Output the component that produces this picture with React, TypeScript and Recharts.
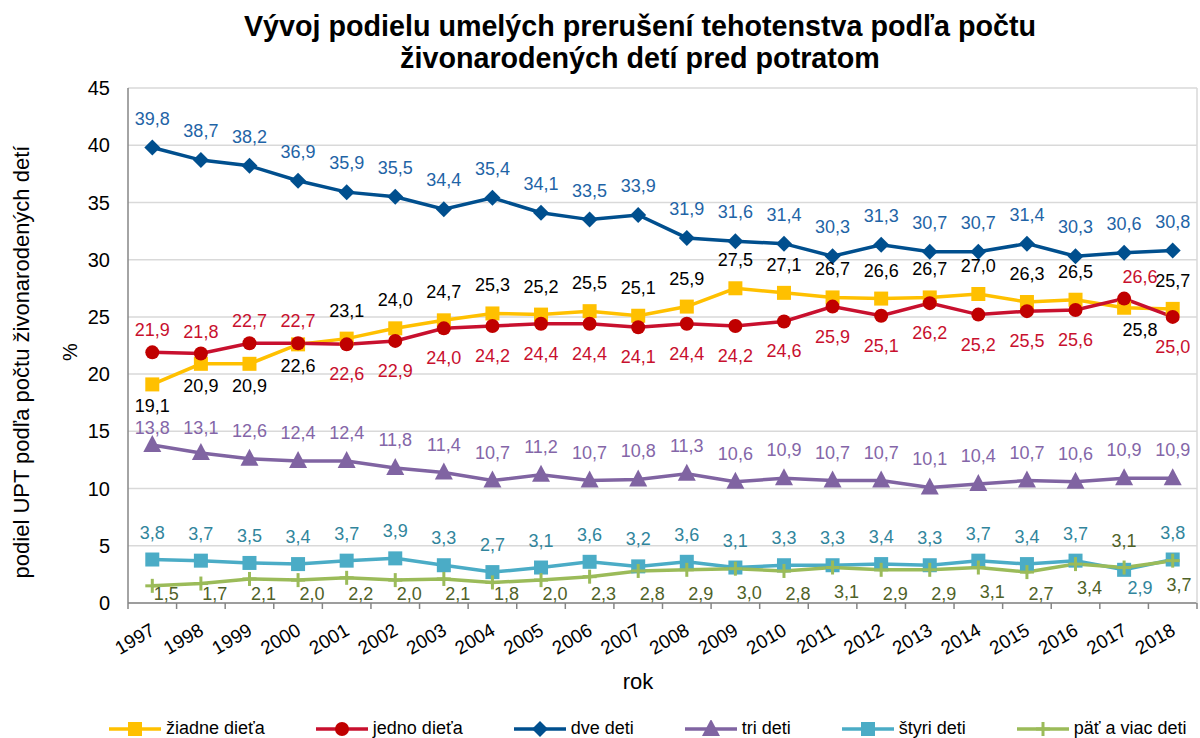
import React from "react";
import {
  LineChart,
  Line,
  XAxis,
  YAxis,
  CartesianGrid,
  LabelList,
} from "recharts";

const years = [
  "1997", "1998", "1999", "2000", "2001", "2002", "2003", "2004", "2005", "2006", "2007",
  "2008", "2009", "2010", "2011", "2012", "2013", "2014", "2015", "2016", "2017", "2018",
];

const ziadne = [19.1, 20.9, 20.9, 22.6, 23.1, 24.0, 24.7, 25.3, 25.2, 25.5, 25.1, 25.9, 27.5, 27.1, 26.7, 26.6, 26.7, 27.0, 26.3, 26.5, 25.8, 25.7];
const jedno = [21.9, 21.8, 22.7, 22.7, 22.6, 22.9, 24.0, 24.2, 24.4, 24.4, 24.1, 24.4, 24.2, 24.6, 25.9, 25.1, 26.2, 25.2, 25.5, 25.6, 26.6, 25.0];
const dve = [39.8, 38.7, 38.2, 36.9, 35.9, 35.5, 34.4, 35.4, 34.1, 33.5, 33.9, 31.9, 31.6, 31.4, 30.3, 31.3, 30.7, 30.7, 31.4, 30.3, 30.6, 30.8];
const tri = [13.8, 13.1, 12.6, 12.4, 12.4, 11.8, 11.4, 10.7, 11.2, 10.7, 10.8, 11.3, 10.6, 10.9, 10.7, 10.7, 10.1, 10.4, 10.7, 10.6, 10.9, 10.9];
const styri = [3.8, 3.7, 3.5, 3.4, 3.7, 3.9, 3.3, 2.7, 3.1, 3.6, 3.2, 3.6, 3.1, 3.3, 3.3, 3.4, 3.3, 3.7, 3.4, 3.7, 2.9, 3.8];
const patViac = [1.5, 1.7, 2.1, 2.0, 2.2, 2.0, 2.1, 1.8, 2.0, 2.3, 2.8, 2.9, 3.0, 2.8, 3.1, 2.9, 2.9, 3.1, 2.7, 3.4, 3.1, 3.7];

const yTicks = [0, 5, 10, 15, 20, 25, 30, 35, 40, 45];

const data = years.map((rok, i) => ({
  rok,
  ziadne: ziadne[i],
  jedno: jedno[i],
  dve: dve[i],
  tri: tri[i],
  styri: styri[i],
  pat: patViac[i],
}));

const FONT = "'Liberation Sans', Arial, sans-serif";
const PLOT_LEFT = 128;
const PLOT_RIGHT = 1197;
const PLOT_BOTTOM = 603;
const BAND = (PLOT_RIGHT - PLOT_LEFT) / years.length;

// marker shapes
const square = (fill: string) => (p: any) => (
  <rect key={p.index} x={p.cx - 7} y={p.cy - 7} width={14} height={14} fill={fill} />
);
const circle = (fill: string) => (p: any) => (
  <circle key={p.index} cx={p.cx} cy={p.cy} r={7} fill={fill} />
);
const diamond = (fill: string) => (p: any) => (
  <polygon
    key={p.index}
    points={`${p.cx},${p.cy - 8} ${p.cx + 8},${p.cy} ${p.cx},${p.cy + 8} ${p.cx - 8},${p.cy}`}
    fill={fill}
  />
);
const triangle = (fill: string) => (p: any) => (
  <polygon
    key={p.index}
    points={`${p.cx},${p.cy - 10} ${p.cx + 9},${p.cy + 7} ${p.cx - 9},${p.cy + 7}`}
    fill={fill}
  />
);
const plus = (stroke: string) => (p: any) => (
  <g key={p.index}>
    <line x1={p.cx - 7} y1={p.cy} x2={p.cx + 7} y2={p.cy} stroke={stroke} strokeWidth={3} />
    <line x1={p.cx} y1={p.cy - 7} x2={p.cx} y2={p.cy + 7} stroke={stroke} strokeWidth={3} />
  </g>
);

const fmt = (v: number) => v.toFixed(1).replace(".", ",");

type LabelOpts = {
  above: number; // baseline offset when above
  below?: number; // baseline offset when below
  belowIdx?: number[];
  dxBelow?: number;
  shiftIdx?: number[]; // labels nudged right (crowded spot)
  minY?: number;
  maxY?: number;
};

const makeLabel = (color: string, o: LabelOpts) => (p: any) => {
  const isBelow = (o.belowIdx || []).includes(p.index);
  let y = p.y + (isBelow ? o.below || 0 : o.above);
  if (o.minY !== undefined) y = Math.max(y, o.minY);
  if (o.maxY !== undefined) y = Math.min(y, o.maxY);
  let x = p.x + (isBelow ? o.dxBelow || 0 : 0);
  if ((o.shiftIdx || []).includes(p.index)) x += 16;
  x = Math.min(x, PLOT_RIGHT - 18);
  return (
    <text key={p.index} x={x} y={y} fill={color} fontSize={18} fontFamily={FONT} textAnchor="middle">
      {fmt(p.value)}
    </text>
  );
};

const all = years.map((_, i) => i);
const notIdx = (ex: number[]) => all.filter((i) => !ex.includes(i));

const series = [
  {
    key: "ziadne", name: "žiadne dieťa", color: "#FFC000", dot: square("#FFC000"),
    label: makeLabel("#000000", { above: -22, below: 28, belowIdx: [0, 1, 2, 3, 20], shiftIdx: [20] }),
  },
  {
    key: "jedno", name: "jedno dieťa", color: "#C8102E", dot: circle("#C00000"),
    label: makeLabel("#C8102E", { above: -16, below: 36, belowIdx: notIdx([0, 1, 2, 3, 20]), shiftIdx: [20] }),
  },
  {
    key: "dve", name: "dve deti", color: "#004F8E", dot: diamond("#004F8E"),
    label: makeLabel("#1F64A6", { above: -23 }),
  },
  {
    key: "tri", name: "tri deti", color: "#8064A2", dot: triangle("#8064A2"),
    label: makeLabel("#8466A8", { above: -22, minY: 434 }),
  },
  {
    key: "styri", name: "štyri deti", color: "#4BACC6", dot: square("#4BACC6"),
    label: makeLabel("#31859C", { above: -21, below: 24, belowIdx: [20], shiftIdx: [20] }),
  },
  {
    key: "pat", name: "päť a viac deti", color: "#9BBB59", dot: plus("#9BBB59"),
    label: makeLabel("#4F6228", { above: -21, below: 30, belowIdx: notIdx([20]), dxBelow: 14, maxY: PLOT_BOTTOM - 3 }),
  },
];

const XTick = (p: any) => {
  const x = p.x;
  const y = PLOT_BOTTOM;
  const last = p.index === years.length - 1;
  return (
    <g>
      <line x1={x - BAND / 2} y1={y} x2={x - BAND / 2} y2={y + 6} stroke="#868686" strokeWidth={1.5} />
      {last && <line x1={x + BAND / 2} y1={y} x2={x + BAND / 2} y2={y + 6} stroke="#868686" strokeWidth={1.5} />}
      <text
        x={x + 4}
        y={y + 31}
        textAnchor="end"
        fontSize={19}
        fontFamily={FONT}
        fill="#000"
        transform={`rotate(-30 ${x + 4} ${y + 31})`}
      >
        {p.payload.value}
      </text>
    </g>
  );
};

const LegendIcon = ({ s }: { s: any }) => {
  const Dot = s.dot;
  return (
    <svg width={54} height={18} style={{ display: "block" }}>
      <line x1={1} y1={9} x2={53} y2={9} stroke={s.color} strokeWidth={3.5} />
      {Dot({ cx: 27, cy: 9, index: 0 })}
    </svg>
  );
};

export default function App() {
  return (
    <div
      style={{
        position: "absolute",
        left: 0,
        top: 0,
        width: 1200,
        height: 738,
        background: "#fff",
        fontFamily: FONT,
        overflow: "hidden",
      }}
    >
      <div
        style={{
          position: "absolute",
          left: 140,
          width: 1000,
          top: 10,
          textAlign: "center",
          fontWeight: "bold",
          fontSize: 28.7,
          lineHeight: "32px",
          color: "#000",
        }}
      >
        Vývoj podielu umelých prerušení tehotenstva podľa počtu
        <br />
        živonarodených detí pred potratom
      </div>

      <div
        style={{
          position: "absolute",
          left: 22,
          top: 362,
          transform: "translate(-50%, -50%) rotate(-90deg)",
          whiteSpace: "nowrap",
          fontSize: 22,
        }}
      >
        podiel UPT podľa počtu živonarodených detí
      </div>
      <div
        style={{
          position: "absolute",
          left: 70,
          top: 352,
          transform: "translate(-50%, -50%) rotate(-90deg)",
          fontSize: 20,
        }}
      >
        %
      </div>
      <div
        style={{
          position: "absolute",
          left: 638,
          top: 682,
          transform: "translate(-50%, -50%)",
          fontSize: 22,
        }}
      >
        rok
      </div>

      <LineChart
        width={1200}
        height={738}
        data={data}
        margin={{ top: 88, right: 0, bottom: 0, left: 0 }}
        style={{ position: "absolute", left: 0, top: 0 }}
      >
        <CartesianGrid vertical={false} stroke="#D9D9D9" strokeWidth={1.5} />
        <XAxis
          dataKey="rok"
          interval={0}
          padding={{ left: BAND / 2, right: BAND / 2 }}
          tickLine={false}
          tickSize={0}
          tickMargin={0}
          tick={<XTick />}
          axisLine={{ stroke: "#868686", strokeWidth: 1.5 }}
          height={738 - PLOT_BOTTOM}
        />
        <YAxis
          domain={[0, 45]}
          ticks={yTicks}
          interval={0}
          width={PLOT_LEFT}
          tickLine={false}
          tickSize={0}
          tickMargin={18}
          axisLine={{ stroke: "#868686", strokeWidth: 1.5 }}
          tick={{ fontSize: 20, fill: "#000", fontFamily: FONT }}
        />
        <YAxis
          yAxisId="r"
          orientation="right"
          domain={[0, 45]}
          width={1200 - PLOT_RIGHT}
          tick={false}
          tickLine={false}
          axisLine={{ stroke: "#D9D9D9", strokeWidth: 1.5 }}
        />
        {series.map((s) => (
          <Line
            key={s.key}
            dataKey={s.key}
            name={s.name}
            stroke={s.color}
            strokeWidth={3.5}
            dot={s.dot}
            activeDot={false}
            isAnimationActive={false}
          >
            <LabelList dataKey={s.key} content={s.label} />
          </Line>
        ))}
      </LineChart>

      <div
        style={{
          position: "absolute",
          left: 108,
          top: 718,
          display: "flex",
          alignItems: "center",
          gap: 50,
          fontSize: 18,
          whiteSpace: "nowrap",
        }}
      >
        {series.map((s) => (
          <div key={s.key} style={{ display: "flex", alignItems: "center", gap: 4 }}>
            <LegendIcon s={s} />
            <span>{s.name}</span>
          </div>
        ))}
      </div>
    </div>
  );
}
